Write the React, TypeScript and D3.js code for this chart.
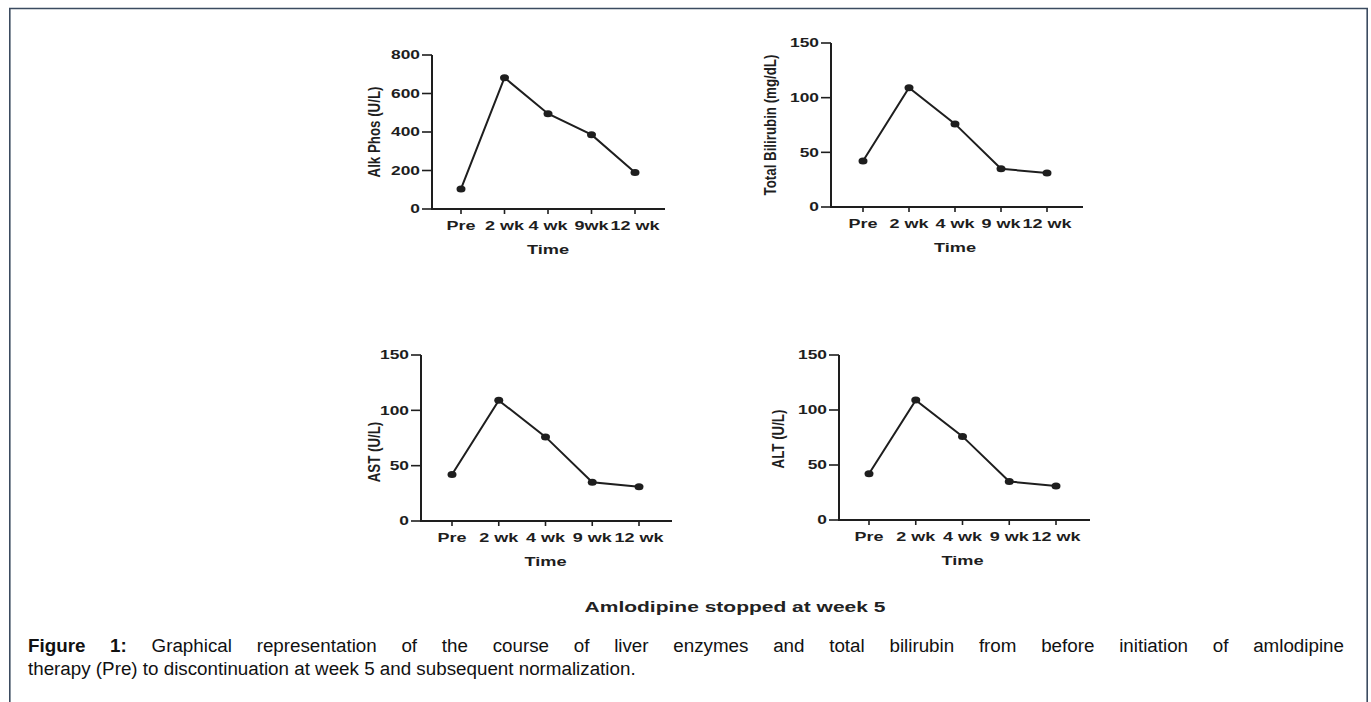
import React from "react";
import * as d3 from "d3";

const categories = ["Pre", "2 wk", "4 wk", "9 wk", "12 wk"];
const alkLabels = ["Pre", "2 wk", "4 wk", "9wk", "12 wk"];
const alkPhos = [104, 682, 495, 386, 190];
const bilirubin = [42, 109, 76, 35, 31];
const ast = [42, 109, 76, 35, 31];
const alt = [42, 109, 76, 35, 31];
const alkTicks = [0, 200, 400, 600, 800];
const smallTicks = [0, 50, 100, 150];

const footnote = "Amlodipine stopped at week 5";
const captionLine1 = "Graphical representation of the course of liver enzymes and total bilirubin from before initiation of amlodipine";
const captionLine2 = "therapy (Pre) to discontinuation at week 5 and subsequent normalization.";

type Panel = {
  values: number[];
  labels: string[];
  yMax: number;
  ticks: number[];
  yTitle: string;
  axisX: number;
  y0: number;
  yTop: number;
  xFirst: number;
  xLast: number;
  axisEnd: number;
  titleX: number;
  titleCY: number;
};

const panels: Panel[] = [
  { values: alkPhos, labels: alkLabels, yMax: 800, ticks: alkTicks, yTitle: "Alk Phos (U/L)", axisX: 432, y0: 209, yTop: 55, xFirst: 461, xLast: 635, axisEnd: 665, titleX: 374, titleCY: 132 },
  { values: bilirubin, labels: categories, yMax: 150, ticks: smallTicks, yTitle: "Total Bilirubin (mg/dL)", axisX: 831, y0: 207, yTop: 43, xFirst: 863, xLast: 1047, axisEnd: 1083, titleX: 770, titleCY: 125 },
  { values: ast, labels: categories, yMax: 150, ticks: smallTicks, yTitle: "AST (U/L)", axisX: 421, y0: 521, yTop: 355, xFirst: 452, xLast: 639, axisEnd: 672, titleX: 374, titleCY: 452 },
  { values: alt, labels: categories, yMax: 150, ticks: smallTicks, yTitle: "ALT (U/L)", axisX: 839, y0: 520, yTop: 355, xFirst: 869, xLast: 1056, axisEnd: 1090, titleX: 778, titleCY: 439 },
];

const INK = "#1e1e1e";
const FONT = "'Liberation Sans', Arial, sans-serif";

let canvasCtx: CanvasRenderingContext2D | null = null;
function measure(text: string, font: string): number {
  if (!canvasCtx) {
    const c = document.createElement("canvas");
    canvasCtx = c.getContext("2d");
  }
  if (!canvasCtx) return text.length * 8;
  canvasCtx.font = font;
  return canvasCtx.measureText(text).width;
}

function ChartPanel({ p }: { p: Panel }) {
  const x = d3.scalePoint<string>().domain(categories).range([p.xFirst, p.xLast]);
  const y = d3.scaleLinear().domain([0, p.yMax]).range([p.y0, p.yTop]);
  const line = d3
    .line<number>()
    .x((_, i) => x(categories[i]) as number)
    .y((d) => y(d));
  const sx = 1.5;
  return (
    <g>
      <line x1={p.axisX} x2={p.axisX} y1={y(0) + 1} y2={y(p.yMax)} stroke={INK} strokeWidth={2} />
      <line x1={p.axisX - 1} x2={p.axisEnd} y1={y(0)} y2={y(0)} stroke={INK} strokeWidth={2} />
      {p.ticks.map((t) => (
        <g key={t}>
          <line x1={p.axisX - 10} x2={p.axisX} y1={y(t)} y2={y(t)} stroke={INK} strokeWidth={1.6} />
          <text
            transform={`translate(${p.axisX - 12},${y(t)}) scale(1.45,1)`}
            dy="0.36em"
            textAnchor="end"
            fontSize={12}
            fontWeight="bold"
            fontFamily={FONT}
            fill={INK}
          >
            {t}
          </text>
        </g>
      ))}
      {categories.map((c, i) => (
        <g key={c}>
          <line x1={x(c)} x2={x(c)} y1={y(0)} y2={y(0) + 5} stroke={INK} strokeWidth={1.6} />
          <text
            transform={`translate(${x(c)},${y(0) + 20.5}) scale(${sx},1)`}
            textAnchor="middle"
            fontSize={12}
            fontWeight="bold"
            fontFamily={FONT}
            fill={INK}
          >
            {p.labels[i]}
          </text>
        </g>
      ))}
      <text
        transform={`translate(${(p.xFirst + p.xLast) / 2},${y(0) + 45}) scale(1.4,1)`}
        textAnchor="middle"
        fontSize={13}
        fontWeight="bold"
        fontFamily={FONT}
        fill={INK}
      >
        Time
      </text>
      <text
        transform={`translate(${p.titleX},${p.titleCY}) rotate(-90) scale(1,1.2)`}
        dy="0.36em"
        textAnchor="middle"
        fontSize={13.3}
        fontWeight="bold"
        fontFamily={FONT}
        fill={INK}
      >
        {p.yTitle}
      </text>
      <path d={line(p.values) || ""} fill="none" stroke={INK} strokeWidth={2} />
      {p.values.map((v, i) => (
        <ellipse key={i} cx={x(categories[i])} cy={y(v)} rx={4.5} ry={3.5} fill={INK} />
      ))}
    </g>
  );
}

export default function App() {
  const capSize = 18.8;
  const capFont = `${capSize}px 'Liberation Sans', Arial, sans-serif`;
  const capBold = `bold ${capSize}px 'Liberation Sans', Arial, sans-serif`;
  const left = 28;
  const right = 1344;
  const words1: { w: string; bold: boolean }[] = [
    { w: "Figure", bold: true },
    { w: "1:", bold: true },
    ...captionLine1.split(" ").map((w) => ({ w, bold: false })),
  ];
  const widths = words1.map((o) => measure(o.w, o.bold ? capBold : capFont));
  const total = widths.reduce((a, b) => a + b, 0);
  const gap = (right - left - total) / (words1.length - 1);
  let cursor = left;
  const positions = widths.map((w) => {
    const px = cursor;
    cursor += w + gap;
    return px;
  });

  return (
    <svg
      width={1371}
      height={702}
      style={{ position: "absolute", left: 0, top: 0, background: "#fff" }}
    >
      <rect x={0} y={0} width={1371} height={702} fill="#fff" />
      <path d="M9.8,702 L9.8,8.5 L1367.2,8.5 L1367.2,702" fill="none" stroke="#3b4b60" strokeWidth={1.6} />
      {panels.map((p, i) => (
        <ChartPanel key={i} p={p} />
      ))}
      <text
        transform="translate(735,611.5) scale(1.4,1)"
        textAnchor="middle"
        fontSize={15}
        fontWeight="bold"
        fontFamily={FONT}
        fill="#222"
      >
        {footnote}
      </text>
      {words1.map((o, i) => (
        <text
          key={i}
          x={positions[i]}
          y={651.5}
          fontSize={capSize}
          fontWeight={o.bold ? "bold" : "normal"}
          fontFamily={FONT}
          fill="#111"
        >
          {o.w}
        </text>
      ))}
      <text x={left} y={674.5} fontSize={capSize} fontFamily={FONT} fill="#111">
        {captionLine2}
      </text>
    </svg>
  );
}
